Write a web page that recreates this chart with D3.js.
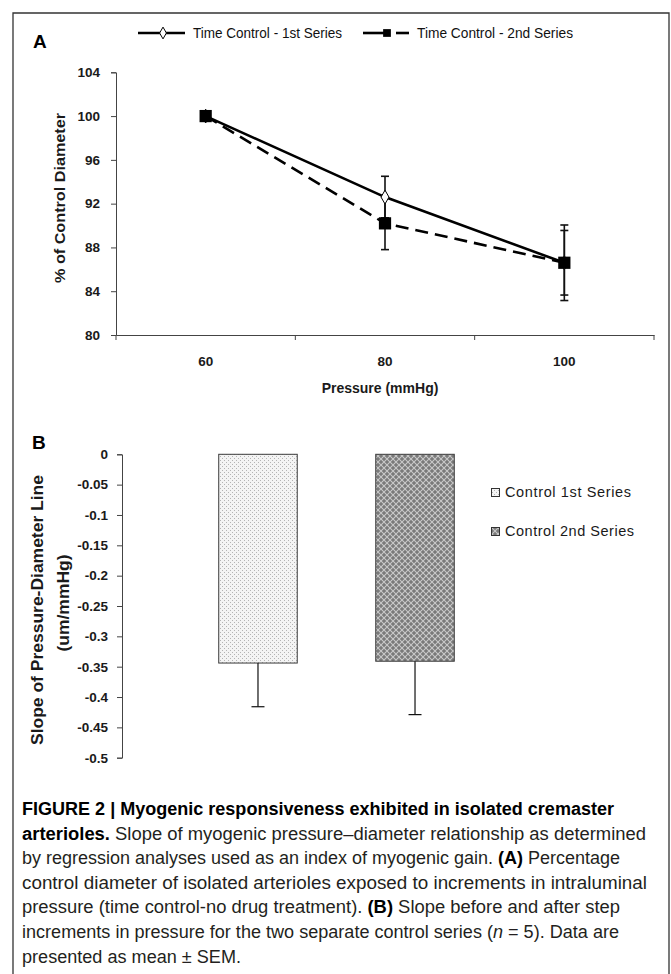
<!DOCTYPE html>
<html>
<head>
<meta charset="utf-8">
<script src="https://cdn.jsdelivr.net/npm/d3@7"></script>
<style>
  html, body { margin: 0; padding: 0; background: #fff; }
  svg { display: block; }
</style>
</head>
<body>
<svg id="fig" width="671" height="974"></svg>
<script>
// ---- Panel A: percent of control diameter vs pressure ----
const pressures = ["60", "80", "100"];
const series1 = [100, 92.6, 86.6];      // Time Control - 1st Series
const series1Err = [0, 1.9, 3.45];
const series2 = [100, 90.2, 86.6];      // Time Control - 2nd Series
const series2Err = [0, 2.4, 2.95];
const yTicksA = [80, 84, 88, 92, 96, 100, 104];
const legendA = ["Time Control - 1st Series", "Time Control - 2nd Series"];

// ---- Panel B: slope of pressure-diameter line ----
const groupsB = ["Control 1st Series", "Control 2nd Series"];
const slopes = [-0.344, -0.341];
const slopeErr = [0.072, 0.088];
const yTicksB = [0, -0.05, -0.1, -0.15, -0.2, -0.25, -0.3, -0.35, -0.4, -0.45, -0.5];

const captionLines = [
  [{t: "FIGURE 2 | Myogenic responsiveness exhibited in isolated cremaster", b: true}],
  [{t: "arterioles.", b: true}, {t: " Slope of myogenic pressure\u2013diameter relationship as determined"}],
  [{t: "by regression analyses used as an index of myogenic gain. "}, {t: "(A)", b: true}, {t: " Percentage"}],
  [{t: "control diameter of isolated arterioles exposed to increments in intraluminal"}],
  [{t: "pressure (time control-no drug treatment). "}, {t: "(B)", b: true}, {t: " Slope before and after step"}],
  [{t: "increments in pressure for the two separate control series ("}, {t: "n", i: true}, {t: " = 5). Data are"}],
  [{t: "presented as mean \u00b1 SEM."}]
];
const captionWidths = [592, 624, 598, 625, 598, 597, 219];

const svg = d3.select("#fig");
const sans = "'Liberation Sans', Arial, Helvetica, sans-serif";
const narrow = "'Liberation Sans Narrow', 'Arial Narrow', 'Liberation Sans', sans-serif";
const axisColor = "#444";

// outer frame
svg.append("path")
  .attr("d", "M13,990 V13 H669 V990")
  .attr("fill", "none").attr("stroke", "#333").attr("stroke-width", 1.3);

// patterns for bar fills
const defs = svg.append("defs");
const p1 = defs.append("pattern").attr("id", "dots").attr("patternUnits", "userSpaceOnUse")
  .attr("width", 4).attr("height", 4);
p1.append("rect").attr("width", 4).attr("height", 4).attr("fill", "#f4f4f4");
p1.append("rect").attr("x", 0).attr("y", 0).attr("width", 1).attr("height", 1).attr("fill", "#b4b4b4");
p1.append("rect").attr("x", 2).attr("y", 2).attr("width", 1).attr("height", 1).attr("fill", "#b4b4b4");

const p2 = defs.append("pattern").attr("id", "hatch").attr("patternUnits", "userSpaceOnUse")
  .attr("width", 6).attr("height", 6);
p2.append("rect").attr("width", 6).attr("height", 6).attr("fill", "#7a7a7a");
p2.append("path").attr("d", "M0,0 L6,6 M0,6 L6,0").attr("stroke", "#c9c9c9").attr("stroke-width", 1.1);

// ================= Panel A =================
const xA = d3.scaleBand().domain(pressures).range([116, 654]);
const yA = d3.scaleLinear().domain([80, 104]).range([335, 72.3]);

svg.append("text").attr("x", 33).attr("y", 48).text("A")
  .attr("font-family", sans).attr("font-weight", "bold").attr("font-size", 19);

// y axis
const gyA = svg.append("g").attr("transform", "translate(116,0)")
  .call(d3.axisLeft(yA).tickValues(yTicksA).tickSize(5).tickPadding(11).tickFormat(d3.format("d")));
// x axis with ticks at category boundaries
const gxA = svg.append("g").attr("transform", "translate(0,335)")
  .call(d3.axisBottom(xA).tickSize(0).tickPadding(21));
const bounds = pressures.map(p => xA(p)).concat([xA(pressures[pressures.length - 1]) + xA.bandwidth()]);
gxA.selectAll(".bound").data(bounds).enter().append("line").attr("class", "bound")
  .attr("x1", d => d).attr("x2", d => d).attr("y1", 0).attr("y2", 5)
  .attr("stroke", axisColor);
[gyA, gxA].forEach(g => {
  g.select(".domain").attr("stroke", axisColor);
  g.selectAll(".tick line").attr("stroke", axisColor);
  g.selectAll("text").attr("font-family", sans).attr("font-weight", "bold")
    .attr("font-size", 13.5).attr("fill", "#1a1a1a");
});

svg.append("text")
  .attr("transform", "translate(65,198) rotate(-90)")
  .attr("text-anchor", "middle")
  .attr("font-family", sans).attr("font-weight", "bold").attr("font-size", 14)
  .attr("fill", "#1a1a1a")
  .attr("textLength", 170).attr("lengthAdjust", "spacingAndGlyphs")
  .text("% of Control Diameter");

svg.append("text").attr("x", 380).attr("y", 393).attr("text-anchor", "middle")
  .attr("font-family", sans).attr("font-weight", "bold").attr("font-size", 14)
  .attr("fill", "#1a1a1a").text("Pressure (mmHg)");

const cx = p => xA(p) + xA.bandwidth() / 2;
const line = d3.line().x((d, i) => cx(pressures[i])).y(d => yA(d));

// error bars
function errBars(vals, errs, w) {
  const g = svg.append("g").attr("stroke", "#111").attr("stroke-width", w);
  vals.forEach((v, i) => {
    if (!errs[i]) return;
    const x = cx(pressures[i]);
    g.append("line").attr("x1", x).attr("x2", x).attr("y1", yA(v - errs[i])).attr("y2", yA(v + errs[i]));
    [v - errs[i], v + errs[i]].forEach(e =>
      g.append("line").attr("x1", x - 4).attr("x2", x + 4).attr("y1", yA(e)).attr("y2", yA(e)));
  });
}
errBars(series2, series2Err, 1.6);
errBars(series1, series1Err, 1.6);

// series 2: dashed with squares
svg.append("path").datum(series2).attr("d", line)
  .attr("fill", "none").attr("stroke", "#000").attr("stroke-width", 2.6)
  .attr("stroke-dasharray", "13,7");
// series 1: solid with diamonds
svg.append("path").datum(series1).attr("d", line)
  .attr("fill", "none").attr("stroke", "#000").attr("stroke-width", 2.6);

const sq = d3.symbol().type(d3.symbolSquare).size(150);
const dia = d3.symbol().type(d3.symbolDiamond).size(55);
series1.forEach((v, i) => {
  svg.append("path").attr("d", dia).attr("transform", `translate(${cx(pressures[i])},${yA(v)})`)
    .attr("fill", "#fff").attr("stroke", "#000").attr("stroke-width", 1);
});
series2.forEach((v, i) => {
  svg.append("path").attr("d", sq).attr("transform", `translate(${cx(pressures[i])},${yA(v)})`)
    .attr("fill", "#000");
});

// legend A
const lg = svg.append("g");
lg.append("line").attr("x1", 138).attr("x2", 185).attr("y1", 33).attr("y2", 33)
  .attr("stroke", "#000").attr("stroke-width", 2.6);
lg.append("path").attr("d", d3.symbol().type(d3.symbolDiamond).size(40))
  .attr("transform", "translate(163,33)").attr("fill", "#fff").attr("stroke", "#000");
lg.append("text").attr("x", 193).attr("y", 38).text(legendA[0])
  .attr("font-family", narrow).attr("font-size", 14).attr("fill", "#111")
  .attr("textLength", 149).attr("lengthAdjust", "spacingAndGlyphs");
lg.append("line").attr("x1", 363).attr("x2", 389).attr("y1", 33).attr("y2", 33)
  .attr("stroke", "#000").attr("stroke-width", 2.6);
lg.append("line").attr("x1", 396).attr("x2", 409).attr("y1", 33).attr("y2", 33)
  .attr("stroke", "#000").attr("stroke-width", 2.6);
lg.append("path").attr("d", d3.symbol().type(d3.symbolSquare).size(60))
  .attr("transform", "translate(387,33)").attr("fill", "#000");
lg.append("text").attr("x", 417).attr("y", 38).text(legendA[1])
  .attr("font-family", narrow).attr("font-size", 14).attr("fill", "#111")
  .attr("textLength", 156).attr("lengthAdjust", "spacingAndGlyphs");

// ================= Panel B =================
const xB = d3.scaleBand().domain(groupsB).range([122, 551]).paddingInner(0.5).paddingOuter(0.616);
const yB = d3.scaleLinear().domain([-0.5, 0]).range([757.7, 454.3]);

svg.append("text").attr("x", 32).attr("y", 449).text("B")
  .attr("font-family", sans).attr("font-weight", "bold").attr("font-size", 19);

const gyB = svg.append("g").attr("transform", "translate(122,0)")
  .call(d3.axisLeft(yB).tickValues(yTicksB).tickSize(5).tickPadding(9)
    .tickFormat(d => d === 0 ? "0" : String(+d.toFixed(2))));
gyB.select(".domain").attr("stroke", axisColor);
gyB.selectAll(".tick line").attr("stroke", axisColor);
gyB.selectAll("text").attr("font-family", sans).attr("font-weight", "bold")
  .attr("font-size", 13.5).attr("fill", "#1a1a1a");

svg.append("text")
  .attr("transform", "translate(43,610) rotate(-90)")
  .attr("text-anchor", "middle")
  .attr("font-family", sans).attr("font-weight", "bold").attr("font-size", 17)
  .attr("fill", "#1a1a1a")
  .attr("textLength", 270).attr("lengthAdjust", "spacingAndGlyphs")
  .text("Slope of Pressure-Diameter Line");
svg.append("text")
  .attr("transform", "translate(69,603) rotate(-90)")
  .attr("text-anchor", "middle")
  .attr("font-family", sans).attr("font-weight", "bold").attr("font-size", 17)
  .attr("fill", "#1a1a1a")
  .attr("textLength", 97).attr("lengthAdjust", "spacingAndGlyphs")
  .text("(um/mmHg)");

const fills = ["url(#dots)", "url(#hatch)"];
groupsB.forEach((g, i) => {
  const x = xB(g), w = xB.bandwidth();
  svg.append("rect").attr("x", x).attr("y", yB(0)).attr("width", w)
    .attr("height", yB(slopes[i]) - yB(0))
    .attr("fill", fills[i]).attr("stroke", "#3a3a3a").attr("stroke-width", 1);
  const c = x + w / 2;
  const e = slopes[i] - slopeErr[i];
  svg.append("line").attr("x1", c).attr("x2", c).attr("y1", yB(slopes[i])).attr("y2", yB(e))
    .attr("stroke", "#111").attr("stroke-width", 1.2);
  svg.append("line").attr("x1", c - 6.5).attr("x2", c + 6.5).attr("y1", yB(e)).attr("y2", yB(e))
    .attr("stroke", "#111").attr("stroke-width", 1.2);
});

// legend B
groupsB.forEach((g, i) => {
  const y = 488 + i * 39;
  svg.append("rect").attr("x", 491.5).attr("y", y + 0.5).attr("width", 8).attr("height", 8)
    .attr("fill", fills[i]).attr("stroke", "#333").attr("stroke-width", 1);
  svg.append("text").attr("x", 505).attr("y", y + 9).text(g)
    .attr("font-family", sans).attr("font-size", 14.5).attr("fill", "#1a1a1a")
    .attr("textLength", i === 0 ? 126 : 129).attr("lengthAdjust", "spacing");
});

// ================= Caption =================
const cap = svg.append("g");
captionLines.forEach((parts, i) => {
  const t = cap.append("text").attr("x", 22).attr("y", 815 + i * 24.6)
    .attr("font-family", narrow).attr("font-size", 17.5).attr("fill", "#231f20")
    .attr("textLength", captionWidths[i]).attr("lengthAdjust", "spacingAndGlyphs");
  parts.forEach(p => {
    const s = t.append("tspan").text(p.t);
    if (p.b) s.attr("font-weight", "bold").attr("fill", "#000");
    if (p.i) s.attr("font-style", "italic");
  });
});
</script>
</body>
</html>
